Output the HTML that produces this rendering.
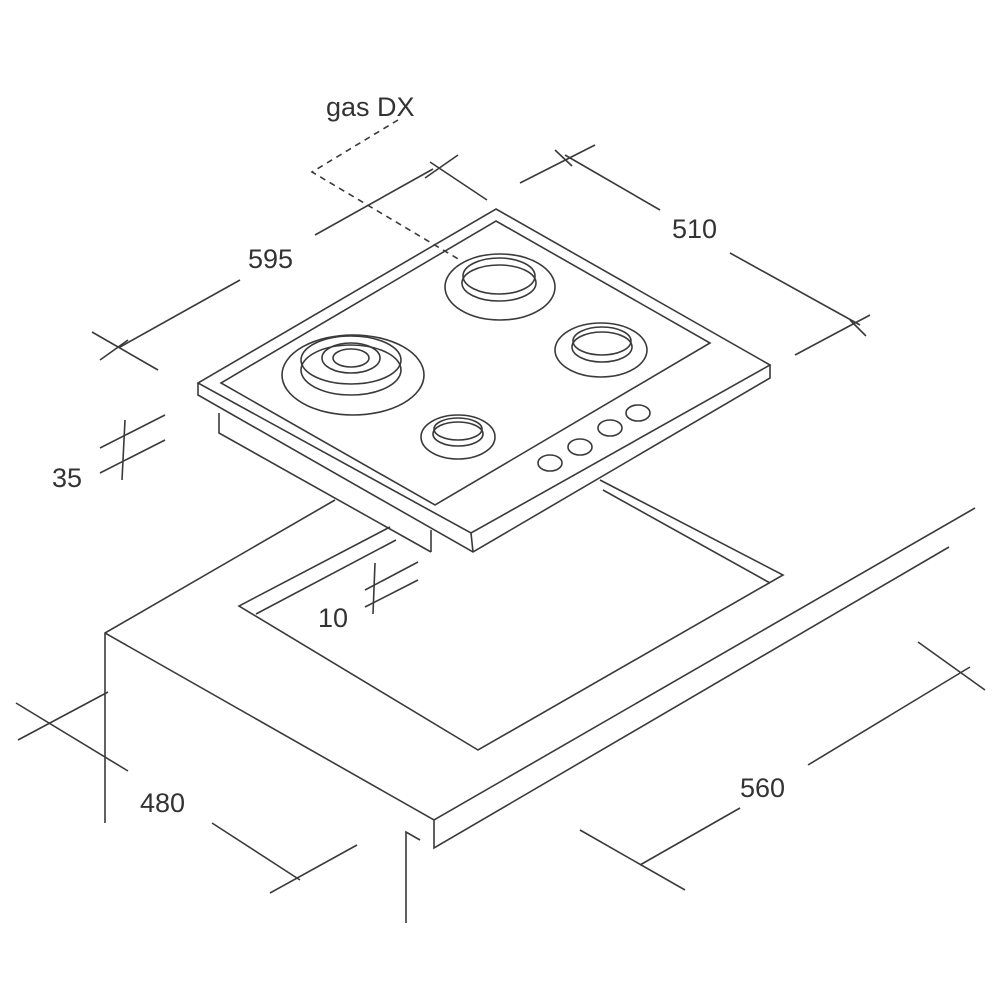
<!DOCTYPE html>
<html><head><meta charset="utf-8"><style>
html,body{margin:0;padding:0;background:#fff;}
svg{display:block}
text{font-family:"Liberation Sans",sans-serif;font-size:27px;fill:#333}
</style></head><body>
<svg width="1000" height="1000" viewBox="0 0 1000 1000" xmlns="http://www.w3.org/2000/svg">
<g fill="none" stroke="#3a3a3a" stroke-width="1.6" stroke-linejoin="miter">
<!-- countertop -->
<polyline points="105,823 105,633 335,500"/>
<polyline points="105,633 434,820 975,508"/>
<polyline points="434,820 434,848 949,547"/>
<polyline points="406,923 406,832 420,840"/>
<!-- cutout -->
<polyline points="390,527 239,606 478,750 783,575 600,480"/>
<polyline points="396,540 256,614"/>
<polyline points="603,490 770,583"/>
<!-- hob body underneath -->
<polyline points="219,413 219,433 431,552"/>
<line x1="431" y1="530" x2="431" y2="552"/>
<!-- hob top plate -->
<polygon points="496,209 770,365 471,533 198,383"/>
<polyline points="198,383 198,395 473,552 770,378 770,365"/>
<line x1="471" y1="533" x2="473" y2="552"/>
<polygon points="496,221 710,343 435,505 221,383"/>
<!-- burners -->
<ellipse cx="353" cy="375" rx="71" ry="40"/>
<ellipse cx="351" cy="370" rx="50" ry="25"/>
<ellipse cx="351" cy="360" rx="50" ry="24"/>
<ellipse cx="351" cy="358" rx="29" ry="15"/>
<ellipse cx="351" cy="358" rx="18" ry="9"/>
<ellipse cx="500" cy="287" rx="55" ry="33"/>
<ellipse cx="499" cy="283" rx="37" ry="18"/>
<ellipse cx="499" cy="276" rx="36" ry="18"/>
<ellipse cx="601" cy="350" rx="46" ry="27"/>
<ellipse cx="602" cy="347" rx="30" ry="15"/>
<ellipse cx="602" cy="341" rx="29" ry="14"/>
<ellipse cx="458" cy="437" rx="37" ry="22"/>
<ellipse cx="458" cy="434" rx="25" ry="12"/>
<ellipse cx="458" cy="429" rx="24" ry="11"/>
<!-- knobs -->
<ellipse cx="550" cy="463" rx="12" ry="8"/>
<ellipse cx="580" cy="447" rx="12" ry="8"/>
<ellipse cx="610" cy="428" rx="12" ry="8"/>
<ellipse cx="638" cy="413" rx="12" ry="8"/>
<!-- gas DX dashed -->
<polyline points="398,120 312,172 460,260" stroke-dasharray="6,5"/>
<!-- 595 -->
<line x1="120" y1="347" x2="240" y2="280"/>
<line x1="315" y1="235" x2="433" y2="169"/>
<line x1="92" y1="332" x2="158" y2="370"/>
<line x1="100" y1="360" x2="128" y2="340"/>
<line x1="430" y1="162" x2="487" y2="200"/>
<line x1="425" y1="178" x2="458" y2="155"/>
<!-- 510 -->
<line x1="565" y1="155" x2="660" y2="210"/>
<line x1="730" y1="253" x2="860" y2="325"/>
<line x1="520" y1="183" x2="595" y2="145"/>
<line x1="795" y1="355" x2="870" y2="315"/>
<line x1="850" y1="320" x2="866" y2="336"/>
<line x1="555" y1="150" x2="572" y2="166"/>
<!-- 35 -->
<line x1="100" y1="448" x2="165" y2="415"/>
<line x1="100" y1="473" x2="165" y2="440"/>
<line x1="125" y1="420" x2="122" y2="480"/>
<!-- 10 -->
<line x1="365" y1="590" x2="418" y2="562"/>
<line x1="365" y1="607" x2="418" y2="580"/>
<line x1="375" y1="563" x2="373" y2="614"/>
<!-- 480 -->
<line x1="16" y1="703" x2="128" y2="771"/>
<line x1="108" y1="692" x2="18" y2="740"/>
<line x1="212" y1="823" x2="300" y2="880"/>
<line x1="270" y1="893" x2="357" y2="845"/>
<!-- 560 -->
<line x1="640" y1="865" x2="740" y2="808"/>
<line x1="808" y1="765" x2="970" y2="667"/>
<line x1="580" y1="830" x2="685" y2="890"/>
<line x1="918" y1="642" x2="985" y2="690"/>
</g>
<text x="326" y="116">gas DX</text>
<text x="248" y="268">595</text>
<text x="672" y="238">510</text>
<text x="52" y="487">35</text>
<text x="318" y="627">10</text>
<text x="140" y="812">480</text>
<text x="740" y="797">560</text>
</svg>
</body></html>
